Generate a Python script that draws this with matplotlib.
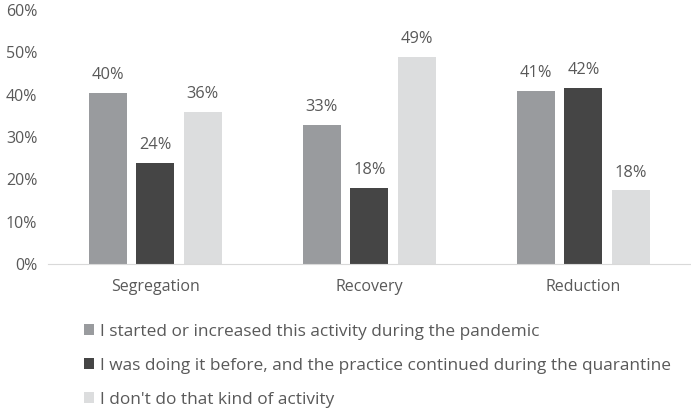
import numpy as np
import matplotlib
matplotlib.use("Agg")
import matplotlib.pyplot as plt
from matplotlib.ticker import PercentFormatter

# -------- DATA --------
categories = ["Segregation", "Recovery", "Reduction"]
series_names = [
    "I started or increased this activity during the pandemic",
    "I was doing it before, and the practice continued during the quarantine",
    "I don't do that kind of activity",
]
started = [40.4, 32.9, 41.0]
before = [23.9, 18.0, 41.6]
dont_do = [35.9, 48.9, 17.4]
labels_started = ["40%", "33%", "41%"]
labels_before = ["24%", "18%", "42%"]
labels_dont = ["36%", "49%", "18%"]
# ----------------------

colors = ["#999b9e", "#454545", "#dcddde"]
text_color = "#595959"
plt.rcParams["font.family"] = ["Open Sans", "DejaVu Sans"]

fig = plt.figure(figsize=(6.91, 4.08), dpi=100)
ax = fig.add_axes([0.070, 0.353, 0.929, 0.622])

x = np.arange(len(categories))
width = 0.178
step = 0.222
all_vals = [started, before, dont_do]
all_labels = [labels_started, labels_before, labels_dont]

for i, (vals, labs) in enumerate(zip(all_vals, all_labels)):
    pos = x + (i - 1) * step
    bars = ax.bar(pos, vals, width, color=colors[i], label=series_names[i])
    for b, lab in zip(bars, labs):
        ax.text(b.get_x() + b.get_width() / 2, b.get_height() + 2.3, lab,
                ha="center", va="bottom", fontsize=11.8, color=text_color)

ax.set_xlim(-0.5, 2.5)
ax.set_ylim(0, 60)
ax.set_yticks(np.arange(0, 61, 10))
ax.yaxis.set_major_formatter(PercentFormatter(decimals=0))
ax.set_xticks(x)
ax.set_xticklabels(categories)
ax.tick_params(axis="both", length=0, labelsize=11.5, labelcolor=text_color)
ax.tick_params(axis="x", pad=11)
ax.tick_params(axis="y", pad=8)

for s in ["top", "right", "left"]:
    ax.spines[s].set_visible(False)
ax.spines["bottom"].set_color("#d9d9d9")

handles, lbls = ax.get_legend_handles_labels()
leg = fig.legend(handles, lbls, loc="upper left", bbox_to_anchor=(0.121, 0.207),
                 frameon=False, fontsize=12.4, labelcolor=text_color,
                 handlelength=0.6, handleheight=0.6, handletextpad=0.35,
                 labelspacing=1.05, borderaxespad=0, borderpad=0)

fig.savefig("out.png", dpi=100)
